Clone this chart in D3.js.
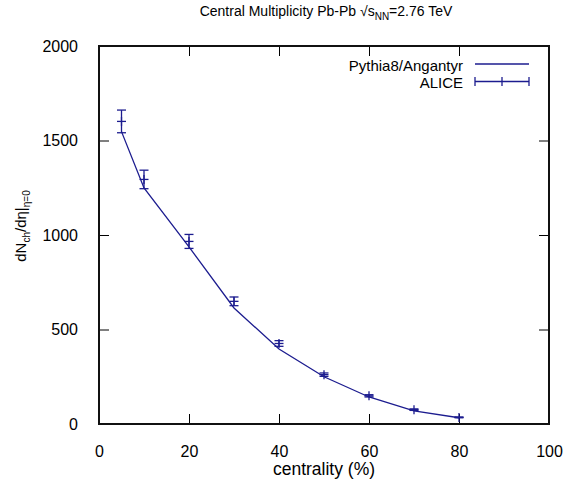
<!DOCTYPE html>
<html>
<head>
<meta charset="utf-8">
<script src="https://cdn.jsdelivr.net/npm/d3@7"></script>
<style>
body { margin: 0; background: #fff; }
text { font-family: "Liberation Sans", Arial, sans-serif; fill: #000; }
</style>
</head>
<body>
<div id="container"></div>
<script>
// centrality bins and multiplicities
var CENTRALITY = [5, 10, 20, 30, 40, 50, 60, 70, 80];
var PYTHIA = [1547, 1249, 937, 614, 397, 250, 143, 70, 33];
var ALICE = [1601, 1294, 966, 649, 426, 261, 149, 76, 35];
var ALICE_ERR = [60, 49, 37, 23, 15, 9, 6, 4, 2];
var XTICKS = [0, 20, 40, 60, 80, 100];
var YTICKS = [0, 500, 1000, 1500, 2000];

var WIDTH = 569, HEIGHT = 479;
var COLOR = "#1c1c8f";
var margin = { left: 99, right: 20, top: 46, bottom: 55 };
var TICK = 10;

var svg = d3.select("#container").append("svg")
    .attr("width", WIDTH)
    .attr("height", HEIGHT);

var xs = d3.scaleLinear().domain([0, 100]).range([margin.left, WIDTH - margin.right]);
var ys = d3.scaleLinear().domain([0, 2000]).range([HEIGHT - margin.bottom, margin.top]);

// inward ticks on all four sides
var axes = [
    { ax: d3.axisBottom(xs).tickValues(XTICKS), tr: "translate(0," + ys(0) + ")", lbl: true, pad: 12 },
    { ax: d3.axisTop(xs).tickValues(XTICKS), tr: "translate(0," + ys(2000) + ")", lbl: false, pad: 0 },
    { ax: d3.axisLeft(ys).tickValues(YTICKS), tr: "translate(" + xs(0) + ",0)", lbl: true, pad: 11 },
    { ax: d3.axisRight(ys).tickValues(YTICKS), tr: "translate(" + xs(100) + ",0)", lbl: false, pad: 0 }
];

axes.forEach(function(a) {
    var g = svg.append("g")
	.attr("transform", a.tr)
	.call(a.ax.tickSizeInner(-TICK).tickSizeOuter(0)
	      .tickPadding(TICK + a.pad).tickFormat(d3.format("d")));
    g.select(".domain").remove();
    g.selectAll(".tick line").attr("stroke", "#000");
    g.selectAll("text")
	.style("font-size", "16px")
	.style("font-family", "'Liberation Sans', Arial, sans-serif");
    if (!a.lbl) g.selectAll("text").remove();
});

// model curve
var line = d3.line()
    .x(function(d, i) { return xs(CENTRALITY[i]); })
    .y(function(d) { return ys(d); });

svg.append("path")
    .datum(PYTHIA)
    .attr("d", line)
    .attr("fill", "none")
    .attr("stroke", COLOR)
    .attr("stroke-width", 1.3);

// data points with error bars
var CAP = 4.5;
var pts = svg.append("g").selectAll("g.pt")
    .data(ALICE)
    .enter()
    .append("g")
    .attr("stroke", COLOR)
    .attr("stroke-width", 1.3);

pts.each(function(d, i) {
    var g = d3.select(this);
    var cx = xs(CENTRALITY[i]);
    var lo = ys(d - ALICE_ERR[i]), hi = ys(d + ALICE_ERR[i]), cy = ys(d);
    g.append("line").attr("x1", cx).attr("x2", cx).attr("y1", lo).attr("y2", hi);
    g.append("line").attr("x1", cx - CAP).attr("x2", cx + CAP).attr("y1", lo).attr("y2", lo);
    g.append("line").attr("x1", cx - CAP).attr("x2", cx + CAP).attr("y1", hi).attr("y2", hi);
    g.append("line").attr("x1", cx - CAP).attr("x2", cx + CAP).attr("y1", cy).attr("y2", cy);
    g.append("line").attr("x1", cx).attr("x2", cx).attr("y1", cy - CAP).attr("y2", cy + CAP);
});

// legend
var lx1 = 475, lx2 = 529, ltx = 463;
svg.append("text").attr("x", ltx).attr("y", 70.5).attr("text-anchor", "end")
    .style("font-size", "15px").text("Pythia8/Angantyr");
svg.append("line").attr("x1", lx1).attr("x2", lx2).attr("y1", 64).attr("y2", 64)
    .attr("stroke", COLOR).attr("stroke-width", 1.3);
svg.append("text").attr("x", ltx).attr("y", 87.5).attr("text-anchor", "end")
    .style("font-size", "15px").text("ALICE");
var lg = svg.append("g").attr("stroke", COLOR).attr("stroke-width", 1.3);
var ly = 81.5;
lg.append("line").attr("x1", lx1).attr("x2", lx2).attr("y1", ly).attr("y2", ly);
lg.append("line").attr("x1", lx1).attr("x2", lx1).attr("y1", ly - CAP).attr("y2", ly + CAP);
lg.append("line").attr("x1", lx2).attr("x2", lx2).attr("y1", ly - CAP).attr("y2", ly + CAP);
lg.append("line").attr("x1", (lx1 + lx2) / 2).attr("x2", (lx1 + lx2) / 2).attr("y1", ly - CAP).attr("y2", ly + CAP);

// title
var title = svg.append("text")
    .attr("x", 326).attr("y", 16)
    .attr("text-anchor", "middle")
    .style("font-size", "14px");
title.append("tspan").text("Central Multiplicity Pb-Pb \u221As");
title.append("tspan").attr("dy", 4).style("font-size", "10px").text("NN");
title.append("tspan").attr("dy", -4).text("=2.76 TeV");

// x label
svg.append("text")
    .attr("x", xs(50)).attr("y", 475)
    .attr("text-anchor", "middle")
    .style("font-size", "17.5px")
    .text("centrality (%)");

// y label
var yl = svg.append("text")
    .attr("transform", "translate(26,226) rotate(-90)")
    .attr("text-anchor", "middle")
    .style("font-size", "15px");
yl.append("tspan").text("dN");
yl.append("tspan").attr("dy", 4).style("font-size", "10px").text("ch");
yl.append("tspan").attr("dy", -4).text("/d\u03B7|");
yl.append("tspan").attr("dy", 4).style("font-size", "10px").text("\u03B7=0");

// frame, drawn last so nothing sits on top of it
svg.append("rect")
    .attr("x", xs(0))
    .attr("y", ys(2000))
    .attr("width", xs(100) - xs(0))
    .attr("height", ys(0) - ys(2000))
    .style("fill", "none")
    .style("stroke", "#111")
    .style("stroke-width", "2px");
</script>
</body>
</html>
